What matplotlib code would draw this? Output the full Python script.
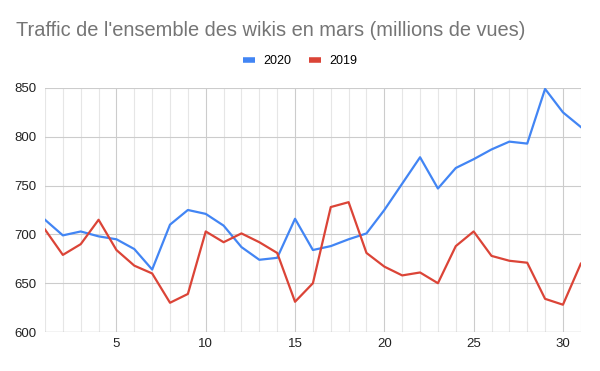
import numpy as np
import matplotlib
matplotlib.use("Agg")
import matplotlib.pyplot as plt
from matplotlib.ticker import MultipleLocator

plt.rcParams['font.family'] = ['Liberation Sans', 'DejaVu Sans']

days = list(range(1, 32))
views_2020 = [715, 699, 703, 698, 695, 685, 664, 710, 725, 721, 709, 687, 674, 676, 716,
              684, 688, 695, 701, 725, 752, 779, 747, 768, 777, 787, 795, 793, 849, 825, 810]
views_2019 = [705, 679, 690, 715, 684, 668, 660, 630, 639, 703, 692, 701, 692, 681, 631,
              650, 728, 733, 681, 667, 658, 661, 650, 688, 703, 678, 673, 671, 634, 628, 670]

fig = plt.figure(figsize=(6, 3.71), dpi=100)
ax = fig.add_axes([0.075, 0.105, 0.893, 0.658])

ax.plot(days, views_2020, color='#4285F4', lw=1.6, label='2020', zorder=3)
ax.plot(days, views_2019, color='#DB4437', lw=1.6, label='2019', zorder=3)

ax.set_xlim(1, 31)
ax.set_ylim(600, 850)
ax.xaxis.set_major_locator(MultipleLocator(5))
ax.xaxis.set_minor_locator(MultipleLocator(1))
ax.yaxis.set_major_locator(MultipleLocator(50))
ax.grid(which='major', color='#cccccc', lw=0.8)
ax.grid(which='minor', axis='x', color='#e6e6e6', lw=0.8)
ax.set_axisbelow(True)
for s in ax.spines.values():
    s.set_visible(False)
ax.axhline(600, color='#bbbbbb', lw=0.9, zorder=2)
ax.tick_params(which='both', length=0, labelsize=9.5, labelcolor='#222222')
ax.tick_params(axis='y', pad=6)
ax.tick_params(axis='x', pad=4)

fig.text(0.027, 0.903, "Traffic de l'ensemble des wikis en mars (millions de vues)",
         fontsize=14.4, color='#757575', va='baseline')
fig.legend(loc='center', bbox_to_anchor=(0.5, 0.836), ncol=2, frameon=False,
           fontsize=9, handlelength=1.0, handleheight=0.5, columnspacing=1.4,
           handletextpad=0.65)
for line in fig.legends[0].get_lines():
    line.set_linewidth(4)
    line.set_solid_capstyle('butt')

fig.savefig('out.png', dpi=100, facecolor='white')
